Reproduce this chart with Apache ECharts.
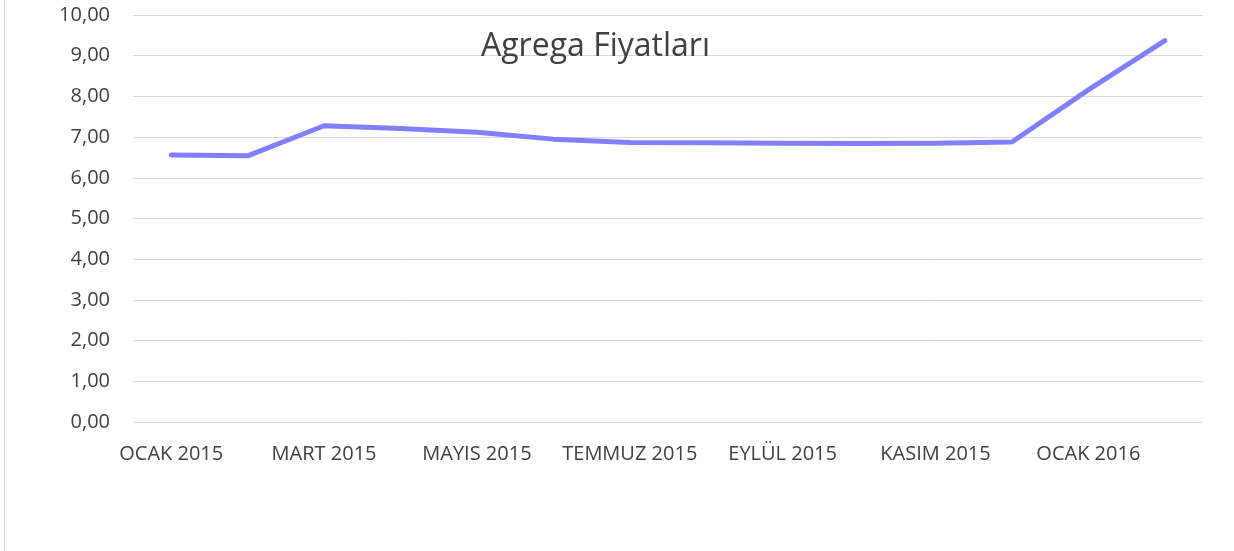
<!DOCTYPE html>
<html>
<head>
<meta charset="utf-8">
<script src="https://cdn.jsdelivr.net/npm/echarts@6/dist/echarts.min.js"></script>
<style>
  html, body { margin: 0; padding: 0; background: #fff; }
  #wrap { position: relative; width: 1234px; height: 551px; }
  #edge { position: absolute; left: 4px; top: 0; bottom: 0; border-left: 1px solid #d9d9d9; }
  #main { width: 1234px; height: 551px; }
</style>
</head>
<body>
<div id="wrap">
  <div id="edge"></div>
  <div id="main"></div>
</div>
<script>
// aylar
var months = [
  "OCAK 2015", "ŞUBAT 2015", "MART 2015", "NİSAN 2015", "MAYIS 2015",
  "HAZİRAN 2015", "TEMMUZ 2015", "AĞUSTOS 2015", "EYLÜL 2015", "EKİM 2015",
  "KASIM 2015", "ARALIK 2015", "OCAK 2016", "ŞUBAT 2016"
];
// agrega fiyatlari
var prices = [6.56, 6.54, 7.28, 7.21, 7.12, 6.95, 6.87, 6.86, 6.85, 6.84, 6.85, 6.88, 8.16, 9.37];
var yTicks = { min: 0, max: 10, step: 1 };

var myChart = echarts.init(document.getElementById("main"));
myChart.setOption({
  animation: false,
  textStyle: { fontFamily: "Open Sans" },
  title: {
    text: "Agrega Fiyatları",
    left: 476,
    top: 26,
    textStyle: {
      fontFamily: "Open Sans",
      fontSize: 32,
      fontWeight: "normal",
      color: "#404040"
    }
  },
  grid: {
    left: 133,
    right: 31,
    top: 15,
    bottom: 129
  },
  xAxis: {
    type: "category",
    data: months,
    boundaryGap: true,
    axisLine: { show: false },
    axisTick: { show: false },
    axisLabel: {
      interval: 1,
      margin: 22,
      fontSize: 20,
      color: "#404040"
    }
  },
  yAxis: {
    type: "value",
    min: yTicks.min,
    max: yTicks.max,
    interval: yTicks.step,
    axisLine: { show: false },
    axisTick: { show: false },
    axisLabel: {
      margin: 23,
      fontSize: 20,
      color: "#404040",
      formatter: function (v) {
        return v.toFixed(2).replace(".", ",");
      }
    },
    splitLine: { lineStyle: { color: "#d9d9d9", width: 1 } }
  },
  series: [
    {
      name: "Agrega Fiyatları",
      type: "line",
      data: prices,
      symbol: "none",
      lineStyle: { color: "#8080ff", width: 5, cap: "round", join: "round" }
    }
  ]
});
</script>
</body>
</html>
